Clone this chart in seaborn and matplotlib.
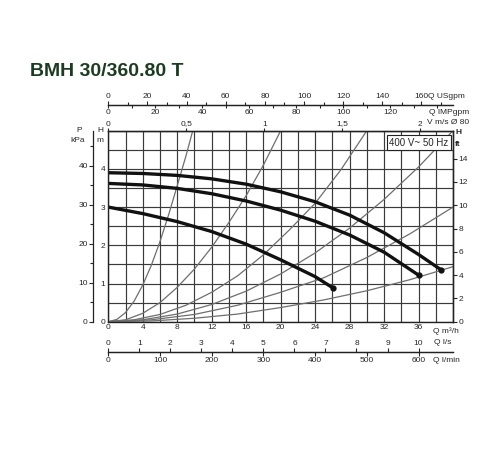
import numpy as np
import seaborn as sns
import matplotlib
matplotlib.use("Agg")
import matplotlib.pyplot as plt

# pump curves, Q in m3/h and H in m
SPEED3_Q = [0, 4, 8, 12, 16, 20, 24, 28, 32, 36, 38.6]
SPEED3_H = [3.9, 3.88, 3.83, 3.74, 3.6, 3.4, 3.14, 2.79, 2.33, 1.76, 1.36]
SPEED2_Q = [0, 4, 8, 12, 16, 20, 24, 28, 32, 36]
SPEED2_H = [3.62, 3.58, 3.49, 3.35, 3.16, 2.92, 2.63, 2.27, 1.82, 1.22]
SPEED1_Q = [0, 4, 8, 12, 16, 20, 24, 26.1]
SPEED1_H = [3.0, 2.83, 2.62, 2.36, 2.03, 1.62, 1.18, 0.88]

# system curves (thin grey parabolas through the origin)
SYS_A_Q = [0, 1, 2, 3, 4, 5, 6, 7, 8, 9, 9.8]
SYS_A_H = [0, 0.06, 0.24, 0.54, 0.96, 1.48, 2.1, 2.8, 3.56, 4.33, 5.0]
SYS_B_Q = [0, 2, 4, 6, 8, 10, 12, 14, 16, 18, 20]
SYS_B_H = [0, 0.05, 0.22, 0.5, 0.9, 1.38, 1.95, 2.6, 3.3, 4.1, 5.0]
SYS_C_Q = [0, 3, 6, 9, 12, 15, 18, 21, 24, 27, 30]
SYS_C_H = [0, 0.05, 0.19, 0.43, 0.77, 1.2, 1.75, 2.4, 3.1, 3.98, 5.0]
SYS_D_Q = [0, 4, 8, 12, 16, 20, 24, 28, 32, 36, 40]
SYS_D_H = [0, 0.05, 0.2, 0.45, 0.8, 1.25, 1.8, 2.45, 3.2, 4.05, 5.0]
SYS_E_Q = [0, 5, 10, 15, 20, 25, 30, 35, 40]
SYS_E_H = [0, 0.05, 0.19, 0.43, 0.77, 1.15, 1.68, 2.3, 3.0]
SYS_F_Q = [0, 5, 10, 15, 20, 25, 30, 35, 40]
SYS_F_H = [0, 0.02, 0.09, 0.2, 0.37, 0.57, 0.81, 1.1, 1.44]

Q_TICKS = list(range(0, 37, 4))
H_TICKS = [0, 1, 2, 3, 4]
USGPM_TICKS = list(range(0, 161, 20))
IMPGPM_TICKS = list(range(0, 121, 20))
V_TICKS = [0, 0.5, 1, 1.5, 2]
V_LABELS = ["0", "0,5", "1", "1,5", "2"]
LS_TICKS = list(range(0, 11))
LMIN_TICKS = list(range(0, 601, 100))
KPA_TICKS = [0, 10, 20, 30, 40]
FT_TICKS = list(range(0, 15, 2))

W, HT = 500, 450
FS = 6


def px(x, y):
    return x / W, 1 - y / HT


def style_sec(sec, spine, major, minor=None, length=3, pad=1):
    sec.set_ticks(major)
    if minor is not None:
        sec.set_ticks(minor, minor=True)
    sec.tick_params(which="major", length=length, width=0.8, labelsize=FS, pad=pad)
    sec.tick_params(which="minor", length=2, width=0.8)
    sec.spines[spine].set_linewidth(0.9)
    sec.spines[spine].set_color("#222222")


def main():
    sns.set_theme(style="ticks")
    plt.rcParams["font.family"] = ["Liberation Sans", "DejaVu Sans"]

    fig = plt.figure(figsize=(5, 4.5), dpi=100)
    ax = fig.add_axes([108.3 / W, 1 - 321.7 / HT, 344.7 / W, 191 / HT])
    ax.set_xlim(0, 40)
    ax.set_ylim(0, 5)
    ax.set_xticks(Q_TICKS)
    ax.set_xticks(np.arange(0, 41, 2), minor=True)
    ax.set_yticks(H_TICKS)
    ax.set_yticks(np.arange(0, 5.01, 0.5), minor=True)
    ax.grid(which="both", color="#3a3a3a", linewidth=0.85)
    ax.tick_params(which="both", length=0, labelsize=FS, pad=2)
    for s in ax.spines.values():
        s.set_linewidth(1.0)
        s.set_color("#222222")

    for q, h in [(SYS_A_Q, SYS_A_H), (SYS_B_Q, SYS_B_H), (SYS_C_Q, SYS_C_H),
                 (SYS_D_Q, SYS_D_H), (SYS_E_Q, SYS_E_H), (SYS_F_Q, SYS_F_H)]:
        sns.lineplot(x=q, y=h, ax=ax, color="#6e6e6e", linewidth=0.9,
                     sort=False, estimator=None)

    for q, h in [(SPEED3_Q, SPEED3_H), (SPEED2_Q, SPEED2_H), (SPEED1_Q, SPEED1_H)]:
        sns.lineplot(x=q, y=h, ax=ax, color="#111111", linewidth=2.4,
                     sort=False, estimator=None)
        ax.plot(q[-1], h[-1], "o", color="#111111", ms=3.5)

    # extra scales around the grid
    top_loc = (321.7 - 105) / 191
    us = ax.secondary_xaxis(top_loc, functions=(lambda q: q * 4.4029, lambda g: g / 4.4029))
    style_sec(us, "top", USGPM_TICKS, np.arange(0, 171, 10), length=3, pad=0.5)
    imp = ax.secondary_xaxis(top_loc, functions=(lambda q: q * 3.6662, lambda g: g / 3.6662))
    imp.set_alignment("bottom")
    style_sec(imp, "bottom", IMPGPM_TICKS, np.arange(0, 141, 10), length=2.5, pad=0.3)

    vel = ax.secondary_xaxis("top", functions=(lambda q: q / 18.096, lambda v: v * 18.096))
    style_sec(vel, "top", V_TICKS, length=2, pad=0.3)
    vel.set_xticklabels(V_LABELS)

    bot_loc = (321.7 - 351.7) / 191
    ls = ax.secondary_xaxis(bot_loc, functions=(lambda q: q / 3.6, lambda l: l * 3.6))
    ls.set_alignment("top")
    style_sec(ls, "top", LS_TICKS, length=3, pad=0.5)
    lmin = ax.secondary_xaxis(bot_loc, functions=(lambda q: q * 16.667, lambda l: l / 16.667))
    lmin.set_alignment("bottom")
    style_sec(lmin, "bottom", LMIN_TICKS, length=3, pad=0.5)

    kpa = ax.secondary_yaxis((93.3 - 108.3) / 344.7,
                             functions=(lambda h: h * 9.81, lambda p: p / 9.81))
    style_sec(kpa, "left", KPA_TICKS, np.arange(5, 46, 10))
    ft = ax.secondary_yaxis("right", functions=(lambda h: h / 0.3048, lambda f: f * 0.3048))
    style_sec(ft, "right", FT_TICKS)

    # texts
    fig.text(*px(30, 71), "BMH 30/360.80 T", fontsize=14, weight="bold",
             color="#1d3b22", ha="left", va="center")
    small = dict(fontsize=FS, va="center")
    fig.text(*px(428, 96), "Q USgpm", ha="left", **small)
    fig.text(*px(469, 112), "Q IMPgpm", ha="right", **small)
    fig.text(*px(469, 122), "V m/s Ø 80", ha="right", **small)
    fig.text(*px(433, 331), "Q m³/h", ha="left", **small)
    fig.text(*px(434, 343), "Q l/s", ha="left", **small)
    fig.text(*px(433, 360), "Q l/min", ha="left", **small)
    fig.text(*px(100, 131), "H", ha="center", **small)
    fig.text(*px(100, 141), "m", ha="center", **small)
    fig.text(*px(79, 131), "P", ha="center", **small)
    fig.text(*px(78, 141), "kPa", ha="center", **small)
    fig.text(*px(458, 133), "H", ha="center", weight="bold", **small)
    fig.text(*px(458, 144), "ft", ha="center", weight="bold", **small)
    fig.text(*px(419, 142.5), "400 V~ 50 Hz", fontsize=7, ha="center", va="center",
             bbox=dict(boxstyle="square,pad=0.25", fc="white", ec="#222222", lw=0.8))

    fig.savefig("out.png", dpi=100, facecolor="white")


if __name__ == "__main__":
    main()
